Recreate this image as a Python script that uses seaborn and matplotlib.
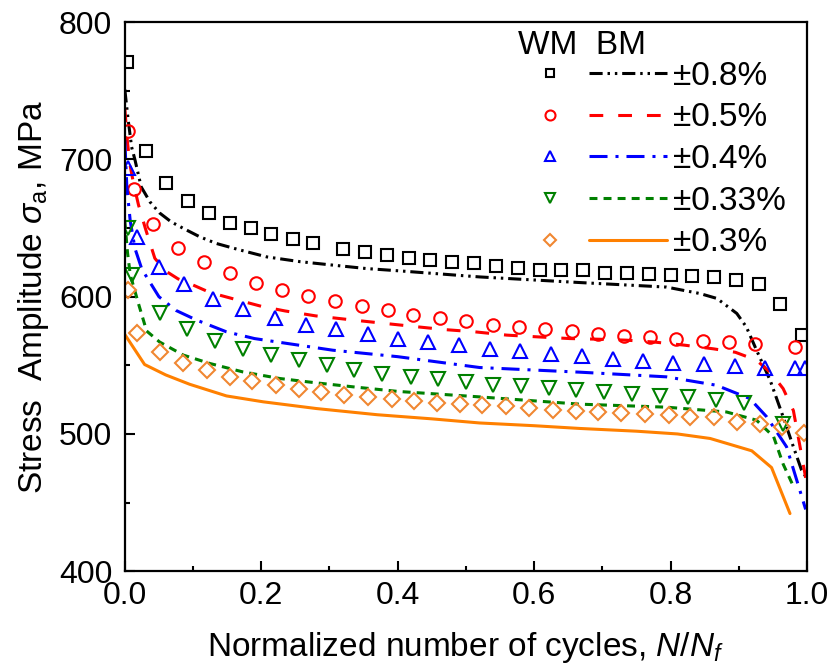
import numpy as np
import pandas as pd
import matplotlib
matplotlib.use('Agg')
import matplotlib.pyplot as plt
from matplotlib.lines import Line2D
from matplotlib.legend_handler import HandlerTuple
from matplotlib.ticker import MultipleLocator
import seaborn as sns

# WM (markers)
wm_08_x = [0.003, 0.031, 0.061, 0.092, 0.123, 0.154, 0.185, 0.215, 0.246, 0.276, 0.320, 0.352, 0.384, 0.417, 0.448, 0.480,
           0.512, 0.544, 0.576, 0.609, 0.640, 0.672, 0.704, 0.736, 0.768, 0.800, 0.832, 0.864, 0.896, 0.929, 0.960, 0.992]
wm_08_y = [771, 706, 683, 670, 661, 654, 650, 645.5, 642, 639, 634.6, 632.2, 630.7, 628.5, 627.0, 625.3,
           624.6, 622.4, 621.0, 619.8, 619.8, 619.1, 617.4, 616.9, 616.4, 615.7, 614.9, 614.0, 612.0, 608.9, 594.5, 572.0]

wm_05_x = [0.005, 0.014, 0.042, 0.078, 0.116, 0.154, 0.193, 0.231, 0.269, 0.308, 0.347, 0.386, 0.423, 0.462, 0.500, 0.539,
           0.578, 0.616, 0.655, 0.693, 0.731, 0.770, 0.808, 0.847, 0.885, 0.924, 0.982]
wm_05_y = [720.6, 678.8, 653.3, 635.6, 625.2, 616.9, 610.3, 604.7, 600.4, 596.7, 593.1, 590.2, 587.0, 584.6, 582.2, 579.2,
           578.0, 576.8, 574.9, 573.0, 571.7, 570.5, 569.0, 567.8, 567.1, 565.2, 563.0]

wm_04_x = [0.005, 0.018, 0.050, 0.087, 0.130, 0.173, 0.220, 0.265, 0.310, 0.356, 0.400, 0.445, 0.490, 0.535, 0.579, 0.625,
           0.670, 0.715, 0.759, 0.804, 0.849, 0.894, 0.938, 0.982, 0.997]
wm_04_y = [693.4, 643.6, 621.7, 609.1, 598.5, 590.7, 584.8, 579.2, 576.3, 572.5, 569.0, 567.1, 564.7, 561.7, 560.3, 558.6,
           556.7, 554.6, 553.5, 551.8, 550.6, 549.4, 548.4, 548.4, 548.4]

wm_033_x = [0.004, 0.010, 0.051, 0.091, 0.132, 0.173, 0.214, 0.255, 0.296, 0.336, 0.377, 0.419, 0.459, 0.500, 0.540, 0.581,
            0.622, 0.662, 0.703, 0.744, 0.784, 0.825, 0.866, 0.907, 0.965]
wm_033_y = [649.7, 615.7, 588, 576.1, 568, 561.8, 557.4, 553.8, 550, 546.5, 543.8, 541.6, 539.7, 537.5, 536.0, 534.8,
            533.6, 531.9, 530.2, 529.2, 528.0, 526.6, 524.6, 522.2, 507.0]

wm_03_x = [0.005, 0.018, 0.051, 0.086, 0.120, 0.154, 0.187, 0.221, 0.256, 0.288, 0.322, 0.356, 0.391, 0.424, 0.458, 0.491,
           0.524, 0.559, 0.593, 0.627, 0.661, 0.694, 0.728, 0.762, 0.797, 0.829, 0.864, 0.897, 0.931, 0.964, 0.996]
wm_03_y = [604.7, 573.2, 559.8, 551.8, 546.4, 541.6, 538.4, 535.5, 533.1, 530.6, 528.7, 527.0, 525.3, 524.1, 522.9, 521.7,
           521.0, 520.2, 518.6, 517.8, 516.6, 515.7, 514.9, 514.2, 513.5, 512.4, 512.0, 508.8, 507.6, 505.1, 500.8]

# BM (lines)
bm_08_x = [0.0, 0.005, 0.010, 0.015, 0.024, 0.037, 0.051, 0.068, 0.086, 0.11, 0.134, 0.169, 0.208, 0.257, 0.305, 0.354,
           0.403, 0.52, 0.667, 0.794, 0.843, 0.868, 0.897, 0.911, 0.926, 0.946, 0.965, 0.98, 0.992, 0.998]
bm_08_y = [751, 728.6, 709, 699.5, 680, 669, 661, 654.5, 649.7, 643.6, 638.8, 634, 629, 625.5, 623, 620.5,
           618.8, 614.4, 610.3, 607, 602.3, 598.7, 587.8, 578, 561, 539, 512.4, 490.6, 473.6, 469]

bm_05_x = [0.0, 0.004, 0.008, 0.013, 0.02, 0.03, 0.044, 0.059, 0.078, 0.095, 0.125, 0.166, 0.20, 0.235, 0.28, 0.327,
           0.374, 0.42, 0.467, 0.513, 0.56, 0.606, 0.652, 0.696, 0.736, 0.775, 0.82, 0.863, 0.895, 0.926, 0.948,
           0.965, 0.98, 0.99, 0.998]
bm_05_y = [737, 712, 695, 682, 667, 650, 628, 619, 613, 609.6, 603, 597.5, 593, 589.6, 586, 583.4,
           580.9, 578.5, 576.1, 574.4, 572, 570.7, 569.5, 569, 568.3, 567, 564.7, 562, 559.5, 553.7, 544,
           533, 517, 490, 468]

bm_04_x = [0.0, 0.003, 0.008, 0.015, 0.025, 0.05, 0.075, 0.105, 0.149, 0.19, 0.237, 0.305, 0.40, 0.52, 0.667, 0.794,
           0.867, 0.916, 0.941, 0.97, 0.998]
bm_04_y = [714, 680, 655, 635, 620, 600, 590, 583, 574.4, 569.5, 566, 561, 556.3, 548.4, 545, 541.6,
           535.5, 525.8, 512.4, 490.6, 445]

bm_033_x = [0.0, 0.004, 0.008, 0.020, 0.032, 0.051, 0.086, 0.125, 0.173, 0.227, 0.281, 0.335, 0.40, 0.52, 0.667, 0.794,
            0.882, 0.926, 0.951, 0.965, 0.978]
bm_033_y = [655, 632, 616, 595, 575, 567, 557.4, 551.3, 545.2, 540.4, 537.2, 534.3, 531, 527, 521.7, 519.5,
            516, 510, 498, 478, 464]

bm_03_x = [0.0, 0.029, 0.06, 0.095, 0.149, 0.203, 0.281, 0.37, 0.45, 0.52, 0.6, 0.667, 0.75, 0.81, 0.858, 0.919,
           0.948, 0.975]
bm_03_y = [572.5, 550.6, 543, 536.2, 527.7, 523.4, 518.5, 514, 511, 508, 506, 504, 502, 500, 496.7, 487.7,
           475.5, 442]

labels = ['\u00b10.8%', '\u00b10.5%', '\u00b10.4%', '\u00b10.33%', '\u00b10.3%']

sns.set_style('ticks')
plt.rcParams['font.family'] = ['Liberation Sans', 'DejaVu Sans']
plt.rcParams['mathtext.fontset'] = 'custom'
plt.rcParams['mathtext.rm'] = 'Liberation Sans'
plt.rcParams['mathtext.it'] = 'Liberation Sans:italic'
plt.rcParams.update({'text.color': 'black', 'axes.labelcolor': 'black', 'axes.edgecolor': 'black',
                     'xtick.color': 'black', 'ytick.color': 'black'})

fig = plt.figure(figsize=(8.32, 6.72), dpi=100)
ax = fig.add_axes([0.150, 0.150, 0.820, 0.817])

wm = [(wm_08_x, wm_08_y), (wm_05_x, wm_05_y), (wm_04_x, wm_04_y), (wm_033_x, wm_033_y), (wm_03_x, wm_03_y)]
bm = [(bm_08_x, bm_08_y), (bm_05_x, bm_05_y), (bm_04_x, bm_04_y), (bm_033_x, bm_033_y), (bm_03_x, bm_03_y)]
mk_colors = ['black', '#FF0000', '#0000FF', '#008000', '#F08732']
ln_colors = ['black', '#FF0000', '#0000FF', '#008000', '#FF8000']
markers = ['s', 'o', '^', 'v', 'D']
msizes = [8, 9, 9.5, 9.5, 8]
dashes = [(0, (4.3, 1.6, 0.8, 1.6, 0.8, 1.6)), (0, (4.5, 4.9)), (0, (5.9, 2.6, 1.0, 2.6)), (0, (2.6, 2.0)), '-']

handles = []
for i in range(5):
    bx, by = bm[i]
    sns.lineplot(x=bx, y=by, ax=ax, color=ln_colors[i], linewidth=2.2, linestyle=dashes[i],
                 sort=False, estimator=None, legend=False)
    wx, wy = wm[i]
    sns.lineplot(x=wx, y=wy, ax=ax, color=mk_colors[i], linestyle='', marker=markers[i],
                 markersize=msizes[i], markerfacecolor='none', markeredgecolor=mk_colors[i],
                 markeredgewidth=1.5, sort=False, estimator=None, legend=False)
    h_m = Line2D([], [], linestyle='', marker=markers[i], markersize=msizes[i] * 0.8,
                 markerfacecolor='none', markeredgecolor=mk_colors[i], markeredgewidth=1.5)
    h_l = Line2D([], [], color=ln_colors[i], linewidth=2.2, linestyle=dashes[i])
    handles.append((h_m, h_l))

ax.legend(handles, labels, handler_map={tuple: HandlerTuple(ndivide=None, pad=0)},
          loc='upper left', bbox_to_anchor=(0.566, 0.930), frameon=False, fontsize=24,
          handlelength=4.68, handletextpad=0.18, labelspacing=0.32, borderpad=0, borderaxespad=0)
ax.text(0.576, 0.958, 'WM  BM', transform=ax.transAxes, fontsize=24, ha='left', va='center')

ax.set_xlim(0, 1.0)
ax.set_ylim(400, 800)
ax.xaxis.set_major_locator(MultipleLocator(0.2))
ax.xaxis.set_minor_locator(MultipleLocator(0.1))
ax.yaxis.set_major_locator(MultipleLocator(100))
ax.yaxis.set_minor_locator(MultipleLocator(50))
ax.set_xticklabels([f'{v:.1f}' for v in ax.get_xticks()])
ax.tick_params(which='both', direction='in', width=1.5, labelsize=23)
ax.tick_params(axis='y', pad=9)
ax.tick_params(axis='x', pad=7)
ax.tick_params(which='major', length=7.5)
ax.tick_params(which='minor', length=3.6)
for s in ax.spines.values():
    s.set_linewidth(1.6)

ax.set_xlabel('Normalized number of cycles, $N$/$N_f$', fontsize=24, labelpad=14)
ax.set_ylabel('Stress  Amplitude $\\sigma_\\mathrm{a}$, MPa', fontsize=24, labelpad=6)

fig.savefig('out.png', dpi=100)
